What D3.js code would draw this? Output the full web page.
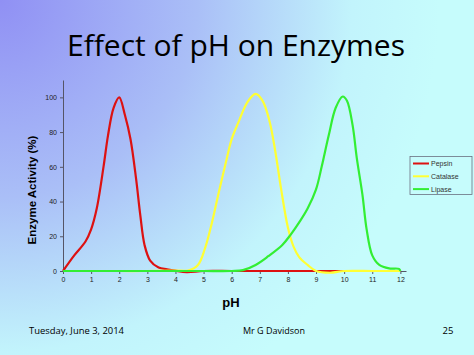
<!DOCTYPE html>
<html>
<head>
<meta charset="utf-8">
<script src="https://cdn.jsdelivr.net/npm/d3@7"></script>
<style>
html,body{margin:0;padding:0;overflow:hidden;}
svg{display:block;}
</style>
</head>
<body>
<svg id="chart" width="474" height="355"></svg>
<script>
// ---- data ----
const xTicks = [0,1,2,3,4,5,6,7,8,9,10,11,12];
const yTicks = [0,20,40,60,80,100];
const seriesNames = ["Pepsin","Catalase","Lipase"];

const pepsinPH  = [0, 0.4, 0.8, 1.0, 1.2, 1.45, 1.6, 1.8, 2.0, 2.2, 2.4, 2.6, 2.75, 2.9, 3.1, 3.4, 3.7, 4.0, 4.4, 5, 6, 7, 8, 9, 10];
const pepsinAct = [0, 9, 17, 24, 36, 61, 78, 94, 100, 90, 76, 53, 32, 15, 6, 2, 1, 0.2, -0.6, 0, 0, 0, 0, 0, 0];

const catalasePH  = [0, 1, 2, 3, 4, 4.45, 4.8, 5.05, 5.3, 5.55, 5.8, 6.0, 6.25, 6.55, 6.85, 7.1, 7.35, 7.55, 7.75, 8.0, 8.2, 8.4, 8.7, 9.0, 9.5, 10, 11, 12];
const catalaseAct = [0, 0, 0, 0, 0.3, 0.3, 3.5, 13, 28, 46, 63, 76, 86, 97, 102, 98, 86, 69, 48, 25, 14, 8, 3.5, 0, -1, 0, 0, 0];

const lipasePH  = [0, 1, 2, 3, 4, 5, 6, 6.4, 6.85, 7.3, 7.8, 8.1, 8.4, 8.7, 9.0, 9.2, 9.45, 9.7, 9.95, 10.1, 10.3, 10.45, 10.65, 10.8, 11.0, 11.25, 11.6, 11.95, 12];
const lipaseAct = [0, 0, 0, 0, 0, 0, 0, 0.5, 3.5, 8.5, 15, 21, 28, 36, 47, 60, 78, 94, 100.5, 98, 84, 65, 44, 24, 9, 3.5, 1.5, 1.2, 0];

const colors = ["#dd1111", "#ffff33", "#33ee33"];

// ---- drawing ----
const svg = d3.select("#chart");
const defs = svg.append("defs");
const grad = defs.append("radialGradient").attr("id","bg")
  .attr("gradientUnits","userSpaceOnUse").attr("cx",0).attr("cy",0).attr("r",440);
grad.append("stop").attr("offset","0").attr("stop-color","#9090f4");
grad.append("stop").attr("offset","0.45").attr("stop-color","#aabff7");
grad.append("stop").attr("offset","0.8").attr("stop-color","#c2f4fc");
grad.append("stop").attr("offset","1").attr("stop-color","#c6fcfc");
svg.append("rect").attr("width",474).attr("height",355).attr("fill","url(#bg)");

svg.append("text").attr("x",236).attr("y",56).attr("text-anchor","middle")
  .attr("font-family","'Comic Sans MS','Open Sans','DejaVu Sans',sans-serif")
  .attr("font-size",30).attr("fill","#000")
  .attr("textLength",338).attr("lengthAdjust","spacingAndGlyphs")
  .text("Effect of pH on Enzymes");

const x = d3.scaleLinear().domain([0,12.2]).range([63,406]);
const y = d3.scaleLinear().domain([0,110]).range([271,80]);

const axisColor = "#555566";
const gx = svg.append("g").attr("transform",`translate(0,${y(0)})`)
  .call(d3.axisBottom(x).tickValues(xTicks).tickSize(3).tickSizeOuter(0).tickFormat(d3.format("d")));
const gy = svg.append("g").attr("transform",`translate(${x(0)},0)`)
  .call(d3.axisLeft(y).tickValues(yTicks).tickSize(3).tickSizeOuter(0));
[gx,gy].forEach(g=>{
  g.selectAll("path,line").attr("stroke",axisColor);
  g.selectAll("text").attr("font-family","'Liberation Sans',Arial,sans-serif").attr("font-size",7).attr("fill","#222");
});
gx.selectAll("text").attr("dy","0.9em").attr("y",5);
gy.selectAll("text").attr("x",-6);

const line = d3.line().x(d=>x(d[0])).y(d=>y(d[1])).curve(d3.curveCatmullRom.alpha(0.5));
const series = [
  d3.zip(pepsinPH,pepsinAct),
  d3.zip(catalasePH,catalaseAct),
  d3.zip(lipasePH,lipaseAct)
];
const outline = ["#a01010","#d8d820","#22bb22"];
series.forEach((s,i)=>{
  svg.append("path").datum(s).attr("d",line).attr("fill","none")
    .attr("stroke",colors[i]).attr("stroke-width",2.2).attr("stroke-linejoin","round");
});

// axis titles
svg.append("text").attr("transform","translate(36,190) rotate(-90)")
  .attr("text-anchor","middle").attr("font-family","'Liberation Sans',Arial,sans-serif")
  .attr("font-weight","bold").attr("font-size",11.5).attr("fill","#000")
  .text("Enzyme Activity (%)");
svg.append("text").attr("x",231).attr("y",307).attr("text-anchor","middle")
  .attr("font-family","'Liberation Sans',Arial,sans-serif")
  .attr("font-weight","bold").attr("font-size",13).attr("fill","#000").text("pH");

// legend
const lg = svg.append("g");
lg.append("rect").attr("x",410).attr("y",156.5).attr("width",62).attr("height",38)
  .attr("fill","none").attr("stroke","#6a7080").attr("stroke-width",0.8);
seriesNames.forEach((n,i)=>{
  const yy = 163.5 + i*12.8;
  lg.append("line").attr("x1",413).attr("x2",429).attr("y1",yy).attr("y2",yy)
    .attr("stroke",colors[i]).attr("stroke-width",2);
  lg.append("text").attr("x",431).attr("y",yy).attr("dy","0.35em")
    .attr("font-family","'Liberation Sans',Arial,sans-serif").attr("font-size",7).attr("fill","#333").text(n);
});

// footer
const ff = "'Comic Sans MS','Open Sans','DejaVu Sans',sans-serif";
svg.append("text").attr("x",29).attr("y",334).attr("font-family",ff).attr("font-size",9.5)
  .attr("textLength",95).attr("lengthAdjust","spacingAndGlyphs").text("Tuesday, June 3, 2014");
svg.append("text").attr("x",274).attr("y",334).attr("text-anchor","middle").attr("font-family",ff).attr("font-size",9.5)
  .attr("textLength",62).attr("lengthAdjust","spacingAndGlyphs").text("Mr G Davidson");
svg.append("text").attr("x",448).attr("y",334).attr("text-anchor","middle").attr("font-family",ff).attr("font-size",9.5)
  .text("25");
</script>
</body>
</html>
